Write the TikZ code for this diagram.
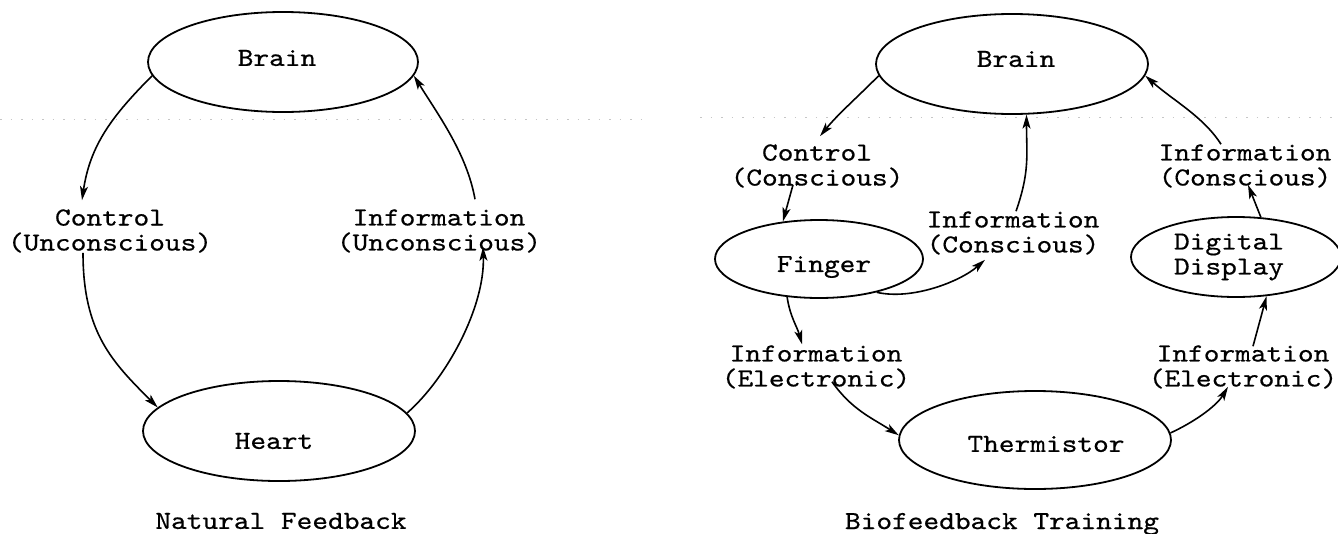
\documentclass[tikz,border=0pt]{standalone}
\usepackage{fontspec}
\newfontfamily\tw{lmmono10-regular.otf}[FakeStretch=1.15,FakeBold=0.6]
\usetikzlibrary{shapes.geometric,arrows.meta}
\begin{document}
\begin{tikzpicture}[x=1pt,y=-1pt,
  oval/.style={draw, ellipse, line width=1.8pt, inner sep=0pt},
  lbl/.style={font=\tw\fontsize{26}{25}\selectfont, align=center, inner sep=0pt},
  arr/.style={line width=1.6pt, -{Stealth[length=14pt,width=8pt,inset=3.5pt]}},
  scan/.style={gray!45, line width=0.8pt, dash pattern=on 1.5pt off 9pt}]
\useasboundingbox (0,0) rectangle (1338,533);
\clip (0,0) rectangle (1338,533);

% faint scan line
\draw[scan] (0,119) -- (650,119);
\draw[scan] (700,117) -- (1338,117);

% ---------------- Natural Feedback ----------------
\node[oval, minimum width=270pt, minimum height=100pt,
      label={[lbl,name=brainLt,xshift=-6pt,yshift=4pt]center:Brain}] (brainL) at (283,62) {};
\node[oval, minimum width=272pt, minimum height=100pt,
      label={[lbl,name=heartt,xshift=-5pt,yshift=-10pt]center:Heart}] (heart) at (279,431) {};
\node[lbl] (ctrlL) at (110,231) {Control\\(Unconscious)};
\node[lbl] (infoL) at (439,231) {Information\\(Unconscious)};
\node[lbl] (capL) at (281,521) {Natural Feedback};

\draw[arr] (brainL.186) .. controls +(-40,40) and +(8,-55) .. ([xshift=-28pt,yshift=9pt]ctrlL.north);
\draw[arr] ([xshift=-27pt]ctrlL.south) .. controls +(0,80) and +(-45,-45) .. (heart.169);
\draw[arr] (heart.8) .. controls +(40,-35) and +(2,60) .. ([xshift=44pt,yshift=6pt]infoL.south);
\draw[arr] ([xshift=36pt,yshift=10pt]infoL.north) .. controls +(-8,-45) and +(25,40) .. (brainL.354);

% ---------------- Biofeedback Training ----------------
\node[oval, minimum width=272pt, minimum height=100pt,
      label={[lbl,name=brainRt,xshift=4pt,yshift=5pt]center:Brain}] (brainR) at (1012,64) {};
\node[oval, minimum width=208pt, minimum height=78pt,
      label={[lbl,name=fingert,xshift=5pt,yshift=-8pt]center:Finger}] (finger) at (819,259) {};
\node[oval, minimum width=210pt, minimum height=80pt,
      label={[lbl,name=displayt,xshift=-7pt]center:Digital\\Display}] (display) at (1236,257) {};
\node[oval, minimum width=272pt, minimum height=98pt,
      label={[lbl,name=thermt,xshift=11pt,yshift=-4pt]center:Thermistor}] (therm) at (1035,440) {};

\node[lbl] (ctrlR) at (817,166) {Control\\(Conscious)};
\node[lbl] (infoC) at (1013,233) {Information\\(Conscious)};
\node[lbl] (infoCR) at (1245,166) {Information\\(Conscious)};
\node[lbl] (infoEL) at (816,367) {Information\\(Electronic)};
\node[lbl] (infoER) at (1243,367) {Information\\(Electronic)};
\node[lbl] (capR) at (1002,524) {Biofeedback Training};

\draw[arr] (brainR.185) .. controls +(-25,25) and +(18,-22) .. ([xshift=3pt,yshift=8pt]ctrlR.north);
\draw[arr] ([xshift=-24pt,yshift=3pt]ctrlR.south) -- (finger.134);
\draw[arr] ([xshift=3pt]infoC.north) .. controls +(14,-40) and +(0,40) .. (brainR.286);
\draw[arr] (finger.330) .. controls +(35,8) and +(-25,22) .. ([xshift=-28pt,yshift=-5pt]infoC.south);
\draw[arr] (finger.230) .. controls +(3,20) and +(-5,-18) .. ([xshift=-14pt,yshift=1pt]infoEL.north);
\draw[arr] ([xshift=16pt,yshift=7pt]infoEL.south) .. controls +(20,28) and +(-28,-18) .. (therm.178);
\draw[arr] (therm.3) .. controls +(22,-10) and +(-12,20) .. ([xshift=-15pt,yshift=2pt]infoER.south);
\draw[arr] ([xshift=10pt,yshift=-1pt]infoER.north) -- (display.308);
\draw[arr] (display.58) -- ([xshift=3pt,yshift=3pt]infoCR.south);
\draw[arr] ([xshift=-24pt]infoCR.north) .. controls +(-18,-28) and +(28,25) .. (brainR.355);
\end{tikzpicture}
\end{document}
